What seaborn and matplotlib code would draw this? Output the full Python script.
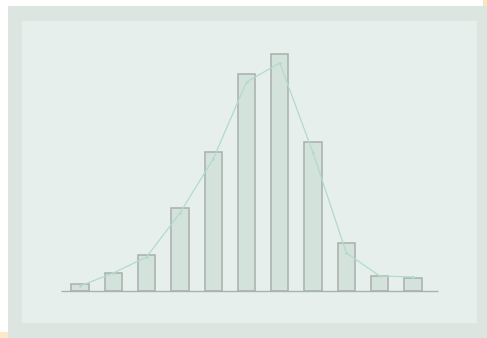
import numpy as np
import pandas as pd
import seaborn as sns
import matplotlib.pyplot as plt
from matplotlib.patches import Rectangle

# Daten (Häufigkeiten je Klasse, aus dem Bild geschätzt)
classes = list(range(1, 12))
counts = [7, 18, 36, 83, 139, 217, 237, 149, 48, 15, 13]
curve = [5, 18, 34, 78, 132, 209, 228, 138, 38, 15, 14]

df = pd.DataFrame({"klasse": classes, "anzahl": counts, "kurve": curve})

W, H = 487, 338
sns.set_style("white")
fig = plt.figure(figsize=(W / 100, H / 100), dpi=100, facecolor="white")

# äußerer Rahmen und kleine Randstreifen (hinter dem Axes zeichnen)
fig.patches.append(Rectangle((8 / W, 0), 1 - 8 / W, 1 - 6 / H, transform=fig.transFigure,
                             facecolor="#dce5e0", edgecolor="none", zorder=-5))
fig.patches.append(Rectangle((0, 0), 8 / W, 6 / H, transform=fig.transFigure,
                             facecolor="#fde8c8", edgecolor="none", zorder=-5))
fig.patches.append(Rectangle((483 / W, 1 - 6 / H), 4 / W, 6 / H, transform=fig.transFigure,
                             facecolor="#fbe3c2", edgecolor="none", zorder=-5))

# inneres Panel
ax = fig.add_axes([22 / W, 1 - 323 / H, 455 / W, 302 / H])
ax.set_facecolor("#e6efeb")

sns.barplot(data=df, x="klasse", y="anzahl", ax=ax, color="#d4e2dc",
            edgecolor="#a8b0ac", linewidth=1.1, width=0.52, saturation=1)
sns.lineplot(x=np.arange(len(classes)), y=df["kurve"], ax=ax, color="#b3dacf",
             linewidth=0.9, marker="o", markersize=2, markeredgewidth=0)

# Grenzen: Basislinie bei y=291px, Oberkante Panel bei y=21px
px_per_unit = (291 - 54) / 237
ymin = -(323 - 291) / px_per_unit
ymax = (291 - 21) / px_per_unit
ax.set_ylim(ymin, ymax)
# Balkenmitte 1 bei x=80, Balken 11 bei x=413
step = (413 - 80) / 10
ax.set_xlim(-(80 - 22) / step, (477 - 80) / step)

ax.hlines(0, -(80 - 61) / step, (438 - 80) / step, color="#a9b2ad", linewidth=1.0)

for s in ax.spines.values():
    s.set_visible(False)
ax.set_xticks([])
ax.set_yticks([])
ax.set_xlabel("")
ax.set_ylabel("")

fig.savefig("out.png", dpi=100, facecolor=fig.get_facecolor())
